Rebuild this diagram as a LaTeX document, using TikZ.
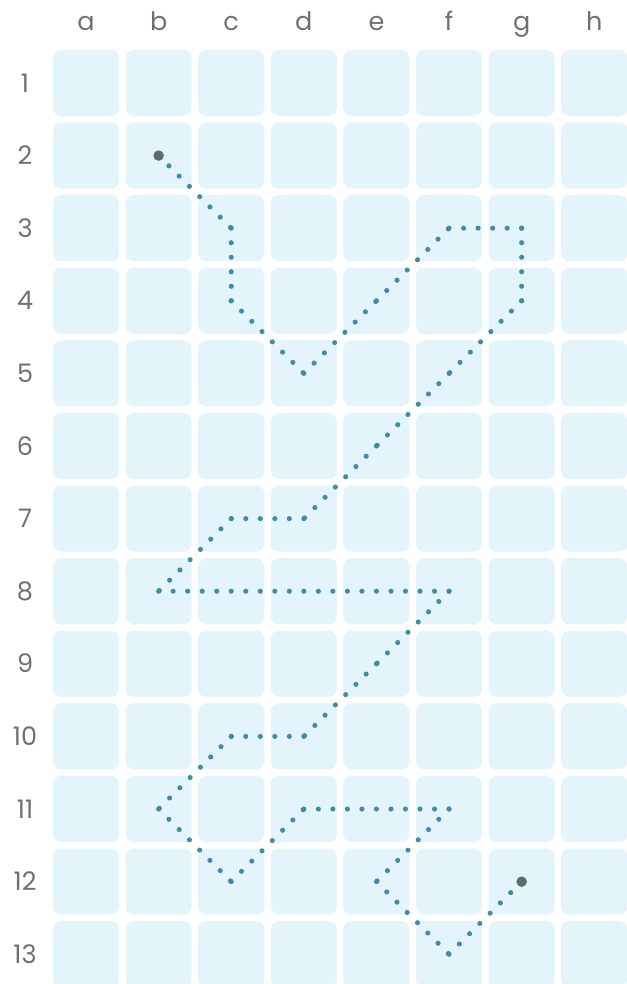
\documentclass[tikz,border=0pt]{standalone}
\usepackage{fontspec}
\setmainfont{Poppins}
\usepackage{xcolor}
\usepackage{tikz}
\usetikzlibrary{positioning}

\definecolor{cellblue}{HTML}{E3F4FB}
\definecolor{trailteal}{HTML}{3D8DAA}
\definecolor{pingray}{HTML}{5E6A70}
\definecolor{labelgray}{HTML}{707070}

\begin{document}
\begin{tikzpicture}[
    cell/.style={rectangle, fill=cellblue, rounded corners=0.11cm, minimum size=0.91cm, inner sep=0pt},
    gridlabel/.style={text=labelgray, font=\normalsize, anchor=base, inner sep=0pt},
    trail/.style={draw=trailteal, line width=2pt, line cap=round, dash pattern=on 0pt off 0.2cm},
    pin/.style={circle, fill=pingray, minimum size=0.145cm, inner sep=0pt}
]
    \useasboundingbox (-1.185,1.143) rectangle (7.438,-12.41);

    % board
    \foreach \col [count=\i from 0] in {a,b,c,d,e,f,g,h} {
        \node[gridlabel] (top-\col) at (\i,0.72) {\col};
        \foreach \row in {1,...,13}
            \node[cell] (\col\row) at (\i,1-\row) {};
    }
    \foreach \row in {1,...,13}
        \node[gridlabel] (side-\row) at (-0.84,0.875-\row) {\row};

    % route
    \foreach \from/\to in {b2/c3, c3/c4, c4/d5, d5/e4, e4/f3, f3/g3, g3/g4,
            g4/f5, f5/e6, e6/d7, d7/c7, c7/b8, b8/f8, f8/e9, e9/d10, d10/c10,
            c10/b11, b11/c12, c12/d11, d11/f11, f11/e12, e12/f13, f13/g12}
        \draw[trail] (\from.center) -- (\to.center);

    \node[pin] (start) at (b2.center) {};
    \node[pin] (finish) at (g12.center) {};
\end{tikzpicture}
\end{document}
